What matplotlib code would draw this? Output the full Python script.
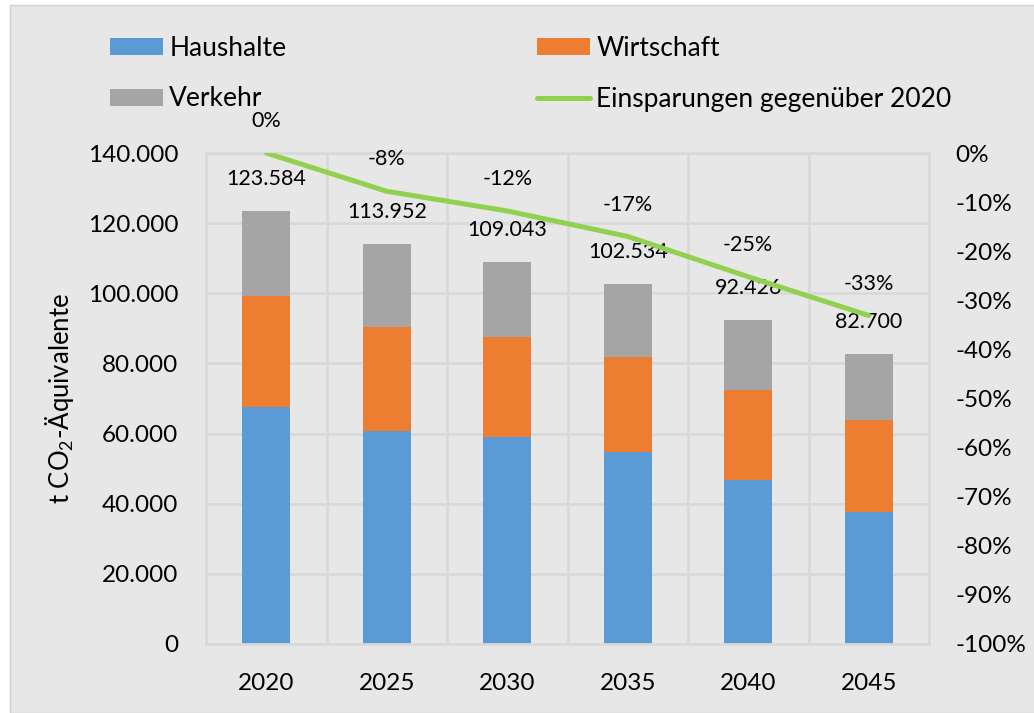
import matplotlib
matplotlib.use('Agg')
import matplotlib.pyplot as plt
from matplotlib.patches import Patch, Rectangle
from matplotlib.lines import Line2D
from matplotlib.ticker import FuncFormatter, MultipleLocator

plt.rcParams['font.family'] = ['Lato', 'DejaVu Sans']
plt.rcParams['mathtext.default'] = 'regular'

# Daten
jahre = ['2020', '2025', '2030', '2035', '2040', '2045']
haushalte = [67500, 60700, 59000, 54700, 46700, 37500]
wirtschaft = [31700, 29750, 28600, 27100, 25800, 26350]
verkehr = [24384, 23502, 21443, 20734, 19926, 18850]
einsparung = [0.0, -7.8, -11.8, -17.0, -25.2, -33.1]   # Prozent gegenüber 2020

blau, orange, grau, gruen = '#5b9bd5', '#ed7d31', '#a5a5a5', '#92d050'
bg = '#e7e7e7'
gridc = '#d9d9d9'

fig = plt.figure(figsize=(10.34, 7.13), dpi=100, facecolor='white')
fig.patches.append(Rectangle((10 / 1034, 0), 1, 1 - 5 / 713, transform=fig.transFigure,
                             facecolor=bg, edgecolor='#d0d0d0', lw=1, zorder=-10))

ax = fig.add_axes([206 / 1034, 1 - 644 / 713, 723 / 1034, 491 / 713])
ax.set_facecolor(bg)

x = list(range(len(jahre)))
unten2 = [h + w for h, w in zip(haushalte, wirtschaft)]
summe = [h + w + v for h, w, v in zip(haushalte, wirtschaft, verkehr)]

ax.bar(x, haushalte, width=0.4, color=blau, zorder=2)
ax.bar(x, wirtschaft, width=0.4, bottom=haushalte, color=orange, zorder=2)
ax.bar(x, verkehr, width=0.4, bottom=unten2, color=grau, zorder=2)

# Summen über den Balken
for xi, s in zip(x, summe):
    ax.annotate(f'{s:,}'.replace(',', '.'), (xi, s), xytext=(0, 23), textcoords='offset points',
                ha='center', va='center', fontsize=15.5, color='black', zorder=5)

ax.set_xlim(-0.5, len(jahre) - 0.5)
ax.set_ylim(0, 140000)
ax.yaxis.set_major_locator(MultipleLocator(20000))
ax.yaxis.set_major_formatter(FuncFormatter(lambda v, p: f'{int(v):,}'.replace(',', '.')))
ax.set_xticks(x)
ax.set_xticklabels(jahre)
ax.set_xticks([i - 0.5 for i in range(len(jahre) + 1)], minor=True)
ax.set_axisbelow(True)
ax.grid(axis='y', which='major', color=gridc, lw=2)
ax.grid(axis='x', which='minor', color=gridc, lw=2)
ax.tick_params(axis='both', which='both', length=0, labelsize=17.5)
ax.tick_params(axis='y', pad=20)
ax.tick_params(axis='x', pad=21)
for s in ax.spines.values():
    s.set_color(gridc)
    s.set_linewidth(2)

ax.set_ylabel('t CO$_2$-Äquivalente', fontsize=18.5)
ax.yaxis.set_label_coords(-0.18, 0.5)

# Sekundärachse: Einsparungen
ax2 = ax.twinx()
ax2.set_ylim(-100, 0)
ax2.yaxis.set_major_locator(MultipleLocator(10))
ax2.yaxis.set_major_formatter(FuncFormatter(lambda v, p: f'{int(round(v))}%'))
ax2.tick_params(axis='y', length=0, labelsize=17.5, pad=19)
for s in ax2.spines.values():
    s.set_visible(False)
ax2.plot(x, einsparung, color=gruen, lw=3.6, solid_capstyle='round', zorder=3)
for xi, e in zip(x, einsparung):
    ax2.annotate(f'{round(e):.0f}%', (xi, e), xytext=(0, 23), textcoords='offset points',
                 ha='center', va='center', fontsize=15.5, color='black')

# Legende
eintraege = [
    (Patch(facecolor=blau), 'Haushalte', 110, 48),
    (Patch(facecolor=orange), 'Wirtschaft', 537, 48),
    (Patch(facecolor=grau), 'Verkehr', 110, 99),
    (Line2D([], [], color=gruen, lw=3.6, solid_capstyle='round'), 'Einsparungen gegenüber 2020', 537, 99),
]
for h, lab, px, py in eintraege:
    fig.legend([h], [lab], loc='center left', bbox_to_anchor=(px / 1034, 1 - py / 713),
               frameon=False, fontsize=19, borderpad=0, borderaxespad=0,
               handlelength=2.0, handleheight=0.62, handletextpad=0.25)

fig.savefig('out.png', dpi=100, facecolor=fig.get_facecolor())
